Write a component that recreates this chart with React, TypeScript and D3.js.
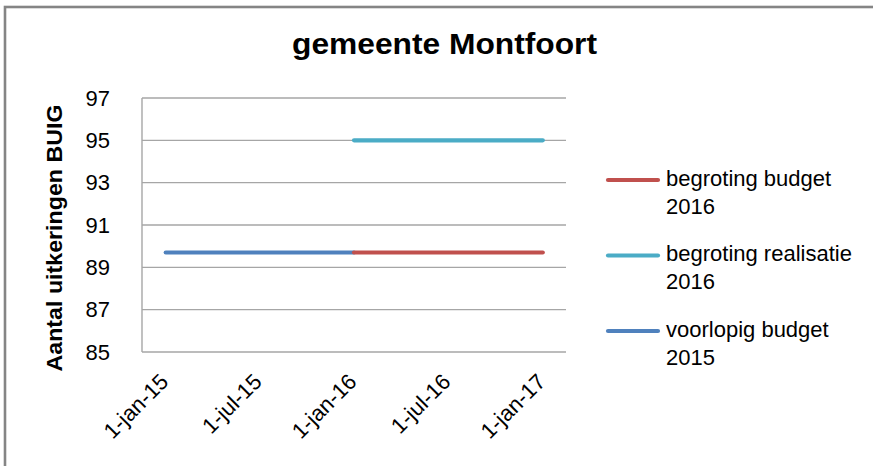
import React from "react";
import * as d3 from "d3";

const title = "gemeente Montfoort";
const yTitle = "Aantal uitkeringen BUIG";
const yTicks = [85, 87, 89, 91, 93, 95, 97];
const xTickDates = ["2015-01-01", "2015-07-01", "2016-01-01", "2016-07-01", "2017-01-01"];
const xTickLabels = ["1-jan-15", "1-jul-15", "1-jan-16", "1-jul-16", "1-jan-17"];

const seriesNames = ["begroting budget 2016", "begroting realisatie 2016", "voorlopig budget 2015"];
const legendLines = [["begroting budget", "2016"], ["begroting realisatie", "2016"], ["voorlopig budget", "2015"]];
const seriesColors = ["#C0504D", "#4BACC6", "#4F81BD"];
const budget2016Dates = ["2016-01-01", "2017-01-01"];
const budget2016Values = [89.7, 89.7];
const realisatie2016Dates = ["2016-01-01", "2017-01-01"];
const realisatie2016Values = [95, 95];
const voorlopig2015Dates = ["2015-01-01", "2016-01-01"];
const voorlopig2015Values = [89.7, 89.7];

const parse = (s: string) => new Date(s + "T00:00:00");

export default function App() {
  const W = 873, H = 466;
  const left = 142, right = 566, top = 98, bottom = 352;
  const x = d3.scaleTime().domain([parse("2014-11-16"), parse("2017-02-15")]).range([left, right]);
  const y = d3.scaleLinear().domain([85, 97]).range([bottom, top]);
  const line = d3.line<[Date, number]>().x((d) => x(d[0])).y((d) => y(d[1]));

  const series = [
    { dates: budget2016Dates, values: budget2016Values },
    { dates: realisatie2016Dates, values: realisatie2016Values },
    { dates: voorlopig2015Dates, values: voorlopig2015Values },
  ].map((s, i) => ({
    name: seriesNames[i],
    color: seriesColors[i],
    pts: s.dates.map((d, j) => [parse(d), s.values[j]] as [Date, number]),
  }));
  // draw order: voorlopig 2015 under, then budget, then realisatie
  const drawOrder = [2, 0, 1];
  const font = "'Liberation Sans', Arial, sans-serif";
  const gridColor = "#a6a6a6";

  return (
    <div style={{ position: "fixed", left: 0, top: 0 }}>
      <svg width={W} height={H} style={{ display: "block", background: "#fff" }} fontFamily={font}>
        <rect x={0} y={0} width={W} height={H} fill="#fff" />
        <rect x={5} y={7} width={1000} height={1000} fill="none" stroke="#858585" strokeWidth={2.6} />
        <text x={444.5} y={54} textAnchor="middle" fontSize={29} fontWeight="bold" fill="#000"
          textLength={305} lengthAdjust="spacingAndGlyphs">{title}</text>
        {yTicks.map((t) => (
          <line key={"g" + t} x1={left} x2={right} y1={y(t)} y2={y(t)} stroke={gridColor} strokeWidth={1.4} />
        ))}
        <line x1={left} x2={left} y1={top} y2={bottom} stroke={gridColor} strokeWidth={1.4} />
        {yTicks.map((t) => (
          <text key={"t" + t} x={110} y={y(t) + 7.8} textAnchor="end" fontSize={22} fill="#000">{t}</text>
        ))}
        <text transform={`translate(62,${238}) rotate(-90)`} textAnchor="middle" fontSize={22} fontWeight="bold"
          fill="#000" textLength={267} lengthAdjust="spacingAndGlyphs">{yTitle}</text>
        {xTickDates.map((d, i) => (
          <text key={"x" + i} transform={`translate(${x(parse(d)) + 4},383) rotate(-45)`} textAnchor="end"
            fontSize={22} fill="#000">{xTickLabels[i]}</text>
        ))}
        {drawOrder.map((i) => (
          <path key={"s" + i} d={line(series[i].pts) || ""} fill="none" stroke={series[i].color}
            strokeWidth={4.2} strokeLinecap="round" />
        ))}
        {series.map((s, i) => {
          const ly = 180 + i * 75.5;
          return (
            <g key={"l" + i}>
              <line x1={608} x2={658} y1={ly} y2={ly} stroke={s.color} strokeWidth={4.2} strokeLinecap="round" />
              <text x={666} y={ly + 5.5} fontSize={22} fill="#000">
                <tspan x={666} dy={0}>{legendLines[i][0]}</tspan>
                <tspan x={666} dy={28}>{legendLines[i][1]}</tspan>
              </text>
            </g>
          );
        })}
      </svg>
    </div>
  );
}
